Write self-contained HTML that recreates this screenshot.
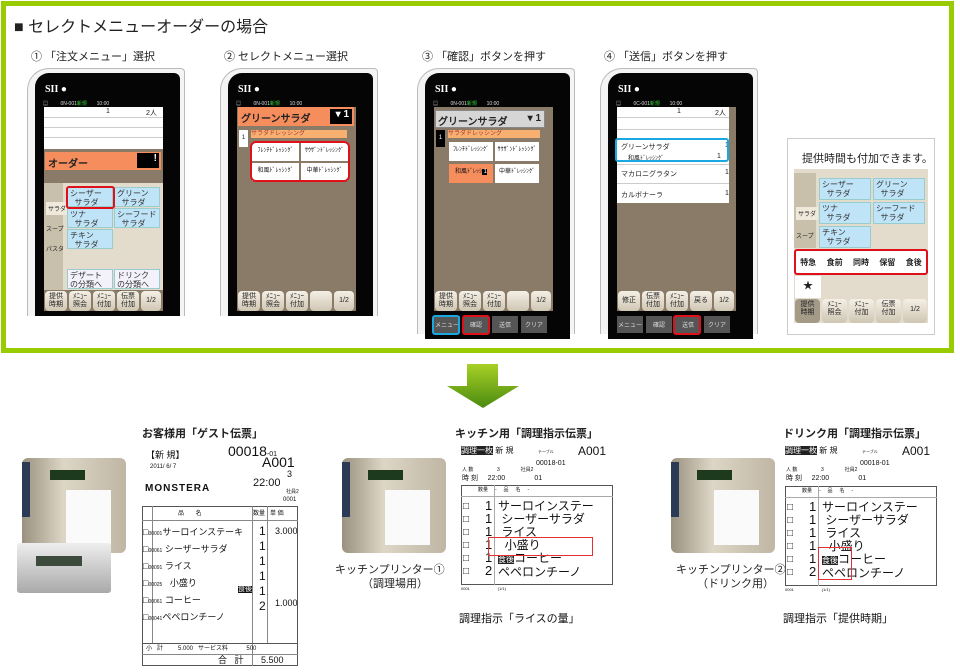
<!DOCTYPE html>
<html><head><meta charset="utf-8">
<style>
*{box-sizing:border-box;margin:0;padding:0}
body{width:960px;height:672px;background:#fff;position:relative;overflow:hidden;font-family:"Liberation Sans","Noto Sans CJK JP",sans-serif;color:#222}
.a{position:absolute}
.t{font-size:11px;white-space:nowrap}
.ph{position:absolute;width:158px;height:248px}
.bez{position:absolute;left:0;top:0;width:158px;height:248px;border:1px solid #bbb;border-bottom:none;border-radius:22px 4px 0 0;background:#f4f4f4}
.scr{position:absolute;left:8px;top:5px;width:145px;height:243px;background:#050505;border-radius:14px 6px 0 0}
.sii{position:absolute;left:18px;top:16px;color:#fff;font:bold 10px "Liberation Serif",serif}
.st{position:absolute;left:16px;top:32px;width:118px;color:#ddd;font-size:5px}
.in{position:absolute;left:17px;top:39px;width:119px;height:204px;background:#8a7b68}
.btn{position:absolute;height:20px;background:linear-gradient(#f5f0e6,#cfc6b3);border-radius:4px;font-size:7px;line-height:8px;text-align:center;padding-top:2px;color:#222}
.lb{position:absolute;background:#bfe3f7;border:1px solid #9cc;font-size:8px;line-height:9px;padding:1px 2px;color:#333}
.wb{position:absolute;background:#fff;font-size:6px;line-height:17px;text-align:center;color:#111}
.nav{position:absolute;height:17px;background:#555;color:#ddd;font-size:6px;text-align:center;line-height:20px}
.red{position:absolute;border:2px solid #e0101a;border-radius:3px}
.blue{position:absolute;border:2px solid #19a8e0;border-radius:3px}
.rc{position:absolute;font-family:"Liberation Sans","Noto Sans CJK JP",sans-serif;color:#111;line-height:1;white-space:nowrap}
</style></head><body>
<div class="a" style="left:1px;top:1px;width:953px;height:352px;border:5px solid #99cc00"></div>
<div class="a" style="left:14px;top:13px;font-size:16px">■ セレクトメニューオーダーの場合</div>
<div class="a t" style="left:31px;top:48px;font-size:11px">① 「注文メニュー」選択</div>
<div class="a t" style="left:224px;top:48px">② セレクトメニュー選択</div>
<div class="a t" style="left:422px;top:48px">③ 「確認」ボタンを押す</div>
<div class="a t" style="left:604px;top:48px">④ 「送信」ボタンを押す</div>

<!-- phone 1 -->
<div class="ph" style="left:27px;top:68px"><div class="bez"></div><div class="scr"></div>
<div class="sii">SII ●</div><div class="st">▤ &nbsp; &nbsp; &nbsp; &nbsp; 0N-001<span style="color:#3c3">新規</span> &nbsp; &nbsp; &nbsp; 10:00</div>
<div class="in">
<div class="a" style="left:0;top:0;width:119px;height:42px;background:#fff;font-size:7px"><span class="a" style="left:62px;top:1px">1</span><span class="a" style="left:102px;top:1px">2人</span><div class="a" style="left:0;top:10px;width:119px;border-top:1px solid #ccc"></div><div class="a" style="left:0;top:20px;width:119px;border-top:1px solid #ccc"></div><div class="a" style="left:0;top:30px;width:119px;border-top:1px solid #ccc"></div></div>
<div class="a" style="left:1px;top:45px;width:116px;height:18px;background:#f58d5d;font:bold 10px sans-serif;padding:3px">オーダー<span class="a" style="left:92px;top:1px;width:22px;height:15px;background:#000;color:#fff;text-align:right;padding-right:2px">!</span></div>
<div class="a" style="left:0;top:76px;width:119px;height:107px;background:#e3dccd"></div>
<div class="a" style="left:0;top:76px;width:19px;height:107px;background:#c9c0ab"></div>
<div class="a t" style="left:2px;top:95px;font-size:6px;background:#efe9dc;padding:2px">サラダ</div>
<div class="a t" style="left:2px;top:117px;font-size:6px">スープ</div><div class="a t" style="left:2px;top:137px;font-size:6px">パスタ</div>
<div class="lb" style="left:23px;top:80px;width:46px;height:20px">シーザー<br>&nbsp; サラダ</div>
<div class="lb" style="left:70px;top:80px;width:46px;height:20px">グリーン<br>&nbsp; サラダ</div>
<div class="lb" style="left:23px;top:101px;width:46px;height:20px">ツナ<br>&nbsp; サラダ</div>
<div class="lb" style="left:70px;top:101px;width:46px;height:20px">シーフード<br>&nbsp; サラダ</div>
<div class="lb" style="left:23px;top:122px;width:46px;height:20px">チキン<br>&nbsp; サラダ</div>
<div class="lb" style="left:23px;top:162px;width:46px;height:20px;background:#f3f1fa">デザート<br>の分類へ ≫</div>
<div class="lb" style="left:70px;top:162px;width:46px;height:20px;background:#f3f1fa">ドリンク<br>の分類へ ≫</div>
<div class="btn" style="left:1px;top:184px;width:22px">提供<br>時期</div><div class="btn" style="left:25px;top:184px;width:22px">ﾒﾆｭｰ<br>照会</div><div class="btn" style="left:49px;top:184px;width:22px">ﾒﾆｭｰ<br>付加</div><div class="btn" style="left:73px;top:184px;width:22px">伝票<br>付加</div><div class="btn" style="left:97px;top:184px;width:20px;padding-top:6px">1/2</div>
</div></div>
<div class="red" style="left:66px;top:186px;width:49px;height:23px"></div>

<!-- phone 2 -->
<div class="ph" style="left:220px;top:68px"><div class="bez"></div><div class="scr"></div>
<div class="sii">SII ●</div><div class="st">▤ &nbsp; &nbsp; &nbsp; &nbsp; 0N-001<span style="color:#3c3">新規</span> &nbsp; &nbsp; &nbsp; 10:00</div>
<div class="in">
<div class="a" style="left:1px;top:0;width:116px;height:19px;background:#f58d5d;font:bold 10px sans-serif;padding:3px">グリーンサラダ<span class="a" style="left:92px;top:2px;width:22px;height:15px;background:#000;color:#fff;text-align:right;padding-right:3px">▾ 1</span></div>
<div class="a" style="left:14px;top:23px;width:96px;height:8px;background:#f7b070;font-size:6px;color:#a33;line-height:8px">サラダドレッシング</div>
<div class="a" style="left:2px;top:23px;width:9px;height:17px;background:#fff;font-size:6px;text-align:center;line-height:17px">1</div>
<div class="wb" style="left:15px;top:36px;width:47px;height:18px">ﾌﾚﾝﾁﾄﾞﾚｯｼﾝｸﾞ</div><div class="wb" style="left:64px;top:36px;width:47px;height:18px">ｻｳｻﾞﾝﾄﾞﾚｯｼﾝｸﾞ</div>
<div class="wb" style="left:15px;top:56px;width:47px;height:18px">和風ﾄﾞﾚｯｼﾝｸﾞ</div><div class="wb" style="left:64px;top:56px;width:47px;height:18px">中華ﾄﾞﾚｯｼﾝｸﾞ</div>
<div class="btn" style="left:1px;top:184px;width:22px">提供<br>時期</div><div class="btn" style="left:25px;top:184px;width:22px">ﾒﾆｭｰ<br>照会</div><div class="btn" style="left:49px;top:184px;width:22px">ﾒﾆｭｰ<br>付加</div><div class="btn" style="left:73px;top:184px;width:22px"></div><div class="btn" style="left:97px;top:184px;width:20px;padding-top:6px">1/2</div>
</div></div>
<div class="red" style="left:250px;top:141px;width:100px;height:41px;border-radius:6px"></div>

<!-- phone 3 -->
<div class="ph" style="left:417px;top:68px;height:266px"><div class="bez" style="height:266px"></div><div class="scr" style="height:266px"></div>
<div class="sii">SII ●</div><div class="st">▤ &nbsp; &nbsp; &nbsp; &nbsp; 0N-001<span style="color:#3c3">新規</span> &nbsp; &nbsp; &nbsp; 10:00</div>
<div class="in">
<div class="a" style="left:1px;top:3px;width:110px;height:18px;background:#d6d6d6;border:1px solid #888;font:bold 10px sans-serif;padding:2px">グリーンサラダ<span class="a" style="right:3px;top:2px">▾ 1</span></div>
<div class="a" style="left:14px;top:23px;width:92px;height:8px;background:#f7b070;font-size:6px;color:#a33;line-height:8px">サラダドレッシング</div>
<div class="a" style="left:2px;top:23px;width:9px;height:17px;background:#000;color:#fff;font-size:6px;text-align:center;line-height:17px">1</div>
<div class="wb" style="left:15px;top:35px;width:44px;height:19px">ﾌﾚﾝﾁﾄﾞﾚｯｼﾝｸﾞ</div><div class="wb" style="left:61px;top:35px;width:44px;height:19px">ｻｳｻﾞﾝﾄﾞﾚｯｼﾝｸﾞ</div>
<div class="wb" style="left:15px;top:57px;width:44px;height:19px;background:#f58d5d">和風ﾄﾞﾚｯｼ<span style="background:#000;color:#fff">&nbsp;1</span></div><div class="wb" style="left:61px;top:57px;width:44px;height:19px">中華ﾄﾞﾚｯｼﾝｸﾞ</div>
<div class="btn" style="left:1px;top:184px;width:22px">提供<br>時期</div><div class="btn" style="left:25px;top:184px;width:22px">ﾒﾆｭｰ<br>照会</div><div class="btn" style="left:49px;top:184px;width:22px">ﾒﾆｭｰ<br>付加</div><div class="btn" style="left:73px;top:184px;width:22px"></div><div class="btn" style="left:97px;top:184px;width:20px;padding-top:6px">1/2</div>
</div>
<div class="nav" style="left:17px;top:248px;width:26px">メニュー</div><div class="nav" style="left:46px;top:248px;width:26px">確認</div><div class="nav" style="left:75px;top:248px;width:26px">送信</div><div class="nav" style="left:104px;top:248px;width:26px">クリア</div>
</div>
<div class="blue" style="left:432px;top:315px;width:28px;height:20px"></div>
<div class="red" style="left:462px;top:315px;width:28px;height:20px"></div>

<!-- phone 4 -->
<div class="ph" style="left:600px;top:68px;height:266px"><div class="bez" style="height:266px"></div><div class="scr" style="height:266px"></div>
<div class="sii">SII ●</div><div class="st">▤ &nbsp; &nbsp; &nbsp; &nbsp; 0C-001<span style="color:#3c3">新規</span> &nbsp; &nbsp; &nbsp; 10:00</div>
<div class="in">
<div class="a" style="left:0;top:0;width:112px;height:96px;background:#fff;font-size:7px">
<span class="a" style="left:60px;top:1px">1</span><span class="a" style="left:98px;top:1px">2人</span>
<div class="a" style="left:0;top:10px;width:112px;border-top:1px solid #ccc"></div><div class="a" style="left:0;top:22px;width:112px;border-top:1px solid #ccc"></div>
<span class="a" style="left:4px;top:35px">グリーンサラダ</span><span class="a" style="left:108px;top:35px">1</span>
<span class="a" style="left:11px;top:46px;font-size:6px">和風ﾄﾞﾚｯｼﾝｸﾞ</span><span class="a" style="left:100px;top:46px">1</span>
<div class="a" style="left:0;top:57px;width:112px;border-top:1px solid #ccc"></div>
<span class="a" style="left:4px;top:62px">マカロニグラタン</span><span class="a" style="left:108px;top:62px">1</span>
<div class="a" style="left:0;top:76px;width:112px;border-top:1px solid #ccc"></div>
<span class="a" style="left:4px;top:83px">カルボナーラ</span><span class="a" style="left:108px;top:83px">1</span>
</div>
<div class="btn" style="left:1px;top:184px;width:22px;padding-top:6px">修正</div><div class="btn" style="left:25px;top:184px;width:22px">伝票<br>付加</div><div class="btn" style="left:49px;top:184px;width:22px">ﾒﾆｭｰ<br>付加</div><div class="btn" style="left:73px;top:184px;width:22px;padding-top:6px">戻る</div><div class="btn" style="left:97px;top:184px;width:20px;padding-top:6px">1/2</div>
</div>
<div class="nav" style="left:17px;top:248px;width:26px">メニュー</div><div class="nav" style="left:46px;top:248px;width:26px">確認</div><div class="nav" style="left:75px;top:248px;width:26px">送信</div><div class="nav" style="left:104px;top:248px;width:26px">クリア</div>
</div>
<div class="blue" style="left:615px;top:138px;width:114px;height:24px"></div>
<div class="red" style="left:673px;top:315px;width:28px;height:20px"></div>

<!-- extra box -->
<div class="a" style="left:787px;top:138px;width:148px;height:197px;border:1px solid #ccc;background:#fff"></div>
<div class="a t" style="left:802px;top:150px;font-size:11px">提供時間も付加できます。</div>
<div class="a" style="left:794px;top:169px;width:134px;height:154px;background:#e3dccd"></div>
<div class="a" style="left:794px;top:173px;width:22px;height:75px;background:#c9c0ab"></div>
<div class="a t" style="left:796px;top:207px;font-size:6px;background:#efe9dc;padding:2px">サラダ</div>
<div class="a t" style="left:796px;top:231px;font-size:6px">スープ</div>
<div class="lb" style="left:819px;top:178px;width:52px;height:22px">シーザー<br>&nbsp; サラダ</div>
<div class="lb" style="left:873px;top:178px;width:52px;height:22px">グリーン<br>&nbsp; サラダ</div>
<div class="lb" style="left:819px;top:202px;width:52px;height:22px">ツナ<br>&nbsp; サラダ</div>
<div class="lb" style="left:873px;top:202px;width:52px;height:22px">シーフード<br>&nbsp; サラダ</div>
<div class="lb" style="left:819px;top:226px;width:52px;height:22px">チキン<br>&nbsp; サラダ</div>
<div class="a" style="left:795px;top:250px;width:132px;height:24px;background:#fff;font-size:8px;display:flex;justify-content:space-around;align-items:center;font-weight:bold"><span>特急</span><span>食前</span><span>同時</span><span>保留</span><span>食後</span></div>
<div class="red" style="left:794px;top:249px;width:134px;height:26px"></div>
<div class="a" style="left:795px;top:276px;width:26px;height:22px;background:#fff;font-size:10px;text-align:center;line-height:22px">★</div>
<div class="btn" style="left:795px;top:299px;width:25px;height:24px;background:#a49a88">提供<br>時期</div><div class="btn" style="left:822px;top:299px;width:25px;height:24px">ﾒﾆｭｰ<br>照会</div><div class="btn" style="left:849px;top:299px;width:25px;height:24px">ﾒﾆｭｰ<br>付加</div><div class="btn" style="left:876px;top:299px;width:25px;height:24px">伝票<br>付加</div><div class="btn" style="left:903px;top:299px;width:24px;height:24px;padding-top:7px">1/2</div>

<!-- arrow -->
<svg class="a" style="left:446px;top:363px" width="74" height="46"><defs><linearGradient id="g" x1="0" y1="0" x2="0" y2="1"><stop offset="0" stop-color="#a7d125"/><stop offset="1" stop-color="#4a8a10"/></linearGradient></defs><polygon points="21,1 52,1 52,23 73,23 37,45 1,23 21,23" fill="url(#g)"/></svg>

<!-- titles -->
<div class="a t" style="left:142px;top:425px;font-weight:bold;font-size:11px">お客様用「ゲスト伝票」</div>
<div class="a t" style="left:455px;top:425px;font-weight:bold;font-size:11px">キッチン用「調理指示伝票」</div>
<div class="a t" style="left:783px;top:425px;font-weight:bold;font-size:11px">ドリンク用「調理指示伝票」</div>

<!-- printers -->
<div class="a" style="left:22px;top:458px;width:104px;height:95px;background:linear-gradient(90deg,#9a917f,#ddd6c6 40%,#bfb6a3);border-radius:6px"></div>
<div class="a" style="left:22px;top:462px;width:8px;height:55px;background:#2b3a55"></div>
<div class="a" style="left:50px;top:470px;width:35px;height:10px;background:#1e3a1e"></div>
<div class="a" style="left:66px;top:490px;width:45px;height:55px;background:#fafafa"></div>
<div class="a" style="left:17px;top:543px;width:94px;height:50px;background:linear-gradient(#eee,#a9a9a9);border-radius:3px"></div>
<div class="a" style="left:36px;top:556px;width:46px;height:10px;background:#3d4b3d"></div>

<div class="a" style="left:342px;top:458px;width:104px;height:95px;background:linear-gradient(90deg,#9a917f,#ddd6c6 40%,#bfb6a3);border-radius:6px"></div>
<div class="a" style="left:342px;top:462px;width:8px;height:55px;background:#2b3a55"></div>
<div class="a" style="left:368px;top:470px;width:35px;height:10px;background:#1e3a1e"></div>
<div class="a" style="left:385px;top:490px;width:45px;height:55px;background:#fafafa"></div>
<div class="a t" style="left:335px;top:561px;font-size:11px">キッチンプリンター①</div>
<div class="a t" style="left:362px;top:575px;font-size:11px">（調理場用）</div>

<div class="a" style="left:671px;top:458px;width:104px;height:95px;background:linear-gradient(90deg,#9a917f,#ddd6c6 40%,#bfb6a3);border-radius:6px"></div>
<div class="a" style="left:671px;top:462px;width:8px;height:55px;background:#2b3a55"></div>
<div class="a" style="left:697px;top:470px;width:35px;height:10px;background:#1e3a1e"></div>
<div class="a" style="left:714px;top:490px;width:45px;height:55px;background:#fafafa"></div>
<div class="a t" style="left:676px;top:561px;font-size:11px">キッチンプリンター②</div>
<div class="a t" style="left:697px;top:575px;font-size:11px">（ドリンク用）</div>

<!-- guest receipt -->
<div class="rc" style="left:146px;top:451px;font-size:9px">【新 規】</div>
<div class="rc" style="left:150px;top:464px;font-size:6px">2011/ 6/ 7</div>
<div class="rc" style="left:145px;top:484px;font-size:10px;font-weight:bold;letter-spacing:1px">MONSTERA</div>
<div class="rc" style="left:228px;top:444px;font-size:14px">00018<span style="font-size:7px">-01</span></div>
<div class="rc" style="left:262px;top:455px;font-size:14px">A001</div>
<div class="rc" style="left:287px;top:470px;font-size:9px">3</div>
<div class="rc" style="left:253px;top:478px;font-size:11px">22:00</div>
<div class="rc" style="left:286px;top:490px;font-size:5px">社員2</div>
<div class="rc" style="left:283px;top:497px;font-size:6px">0001</div>
<div class="a" style="left:142px;top:506px;width:156px;height:160px;border:1px solid #555"></div>
<div class="a" style="left:152px;top:506px;height:137px;border-left:1px solid #888"></div>
<div class="a" style="left:252px;top:506px;height:160px;border-left:1px solid #888"></div>
<div class="a" style="left:267px;top:506px;height:137px;border-left:1px solid #888"></div>
<div class="a" style="left:142px;top:520px;width:156px;border-top:1px solid #888"></div>
<div class="a" style="left:142px;top:643px;width:156px;border-top:1px solid #555"></div>
<div class="a" style="left:142px;top:654px;width:156px;border-top:1px solid #888"></div>
<div class="rc" style="left:178px;top:511px;font-size:6px">品 &nbsp; &nbsp; &nbsp; 名</div>
<div class="rc" style="left:253px;top:511px;font-size:6px">数量 &nbsp; 単 価</div>
<div class="rc" style="left:143px;top:525px;font-size:9px;line-height:15px">□<span style="font-size:5px">00001</span>サーロインステーキ<br>□<span style="font-size:5px">00061</span> シーザーサラダ<br>□<span style="font-size:5px">00091</span> ライス<br>□<span style="font-size:5px">00025</span> &nbsp; 小盛り<br>□<span style="font-size:5px">00061</span> コーヒー<br>□<span style="font-size:5px">00041</span>ペペロンチーノ</div>
<div class="rc" style="left:259px;top:524px;font-size:12px;line-height:15px">1<br>1<br>1<br>1<br>1<br>2</div>
<div class="rc" style="left:238px;top:586px;font-size:7px;background:#111;color:#fff">食後</div>
<div class="rc" style="left:275px;top:527px;font-size:9px">3.000</div>
<div class="rc" style="left:275px;top:599px;font-size:9px">1.000</div>
<div class="rc" style="left:146px;top:646px;font-size:6px">小 &nbsp; 計 &nbsp; &nbsp; &nbsp; &nbsp; 5.000 &nbsp; サービス料 &nbsp; &nbsp; &nbsp; &nbsp; &nbsp; 500</div>
<div class="rc" style="left:218px;top:656px;font-size:9px">合 &nbsp; 計 &nbsp; &nbsp; &nbsp; 5.500</div>

<!-- kitchen receipts -->
<div class="rc" style="left:461px;top:447px;font-size:8px"><span style="background:#222;color:#fff">調理一枚</span> 新 規</div>
<div class="rc" style="left:538px;top:450px;font-size:4px">テーブル</div>
<div class="rc" style="left:578px;top:445px;font-size:12px">A001</div>
<div class="rc" style="left:536px;top:460px;font-size:7px">00018-01</div>
<div class="rc" style="left:462px;top:468px;font-size:5px">人 数 &nbsp; &nbsp; &nbsp; &nbsp; &nbsp; &nbsp; &nbsp; &nbsp; 3 &nbsp; &nbsp; &nbsp; &nbsp; &nbsp; &nbsp; &nbsp; 社員2</div>
<div class="rc" style="left:462px;top:475px;font-size:7px">時 刻 &nbsp; &nbsp; 22:00 &nbsp; &nbsp; &nbsp; &nbsp; &nbsp; &nbsp; &nbsp; 01</div>
<div class="a" style="left:461px;top:485px;width:152px;height:100px;border:1px solid #555"></div>
<div class="a" style="left:494px;top:485px;height:100px;border-left:1px solid #aaa"></div>
<div class="a" style="left:461px;top:496px;width:152px;border-top:1px solid #aaa"></div>
<div class="rc" style="left:478px;top:488px;font-size:5px">数量 &nbsp; &nbsp; - &nbsp; &nbsp; 品 &nbsp; &nbsp; 名 &nbsp; &nbsp; -</div>
<div class="rc" style="left:463px;top:500px;font-size:10px;line-height:13px">□<br>□<br>□<br>□<br>□<br>□</div>
<div class="rc" style="left:485px;top:499px;font-size:13px;line-height:13px">1<br>1<br>1<br>1<br>1<br>2</div>
<div class="rc" style="left:498px;top:500px;font-size:12px;line-height:13px">サーロインステー<br>&nbsp;シーザーサラダ<br>&nbsp;ライス<br>&nbsp; 小盛り<br><span style="background:#222;color:#fff;font-size:8px">食後</span>コーヒー<br>ペペロンチーノ</div>
<div class="rc" style="left:461px;top:587px;font-size:4px">0001 &nbsp; &nbsp; &nbsp; &nbsp; &nbsp; &nbsp; &nbsp; &nbsp; &nbsp; &nbsp; &nbsp; &nbsp; (1/1)</div>
<div class="a" style="left:488px;top:537px;width:105px;height:19px;border:1.5px solid #e53030"></div>
<div class="rc" style="left:459px;top:614px;font-size:11px">調理指示「ライスの量」</div>

<div class="rc" style="left:785px;top:447px;font-size:8px"><span style="background:#222;color:#fff">調理一枚</span> 新 規</div>
<div class="rc" style="left:862px;top:450px;font-size:4px">テーブル</div>
<div class="rc" style="left:902px;top:445px;font-size:12px">A001</div>
<div class="rc" style="left:860px;top:460px;font-size:7px">00018-01</div>
<div class="rc" style="left:786px;top:468px;font-size:5px">人 数 &nbsp; &nbsp; &nbsp; &nbsp; &nbsp; &nbsp; &nbsp; &nbsp; 3 &nbsp; &nbsp; &nbsp; &nbsp; &nbsp; &nbsp; &nbsp; 社員2</div>
<div class="rc" style="left:786px;top:475px;font-size:7px">時 刻 &nbsp; &nbsp; 22:00 &nbsp; &nbsp; &nbsp; &nbsp; &nbsp; &nbsp; &nbsp; 01</div>
<div class="a" style="left:785px;top:486px;width:152px;height:100px;border:1px solid #555"></div>
<div class="a" style="left:818px;top:486px;height:100px;border-left:1px solid #aaa"></div>
<div class="a" style="left:785px;top:497px;width:152px;border-top:1px solid #aaa"></div>
<div class="rc" style="left:802px;top:489px;font-size:5px">数量 &nbsp; &nbsp; - &nbsp; &nbsp; 品 &nbsp; &nbsp; 名 &nbsp; &nbsp; -</div>
<div class="rc" style="left:787px;top:501px;font-size:10px;line-height:13px">□<br>□<br>□<br>□<br>□<br>□</div>
<div class="rc" style="left:809px;top:500px;font-size:13px;line-height:13px">1<br>1<br>1<br>1<br>1<br>2</div>
<div class="rc" style="left:822px;top:501px;font-size:12px;line-height:13px">サーロインステー<br>&nbsp;シーザーサラダ<br>&nbsp;ライス<br>&nbsp; 小盛り<br><span style="background:#222;color:#fff;font-size:8px">食後</span>コーヒー<br>ペペロンチーノ</div>
<div class="rc" style="left:785px;top:588px;font-size:4px">0001 &nbsp; &nbsp; &nbsp; &nbsp; &nbsp; &nbsp; &nbsp; &nbsp; &nbsp; &nbsp; &nbsp; &nbsp; (1/1)</div>
<div class="a" style="left:818px;top:547px;width:34px;height:33px;border:1.5px solid #e53030"></div>
<div class="rc" style="left:783px;top:614px;font-size:11px">調理指示「提供時期」</div>
</body></html>
